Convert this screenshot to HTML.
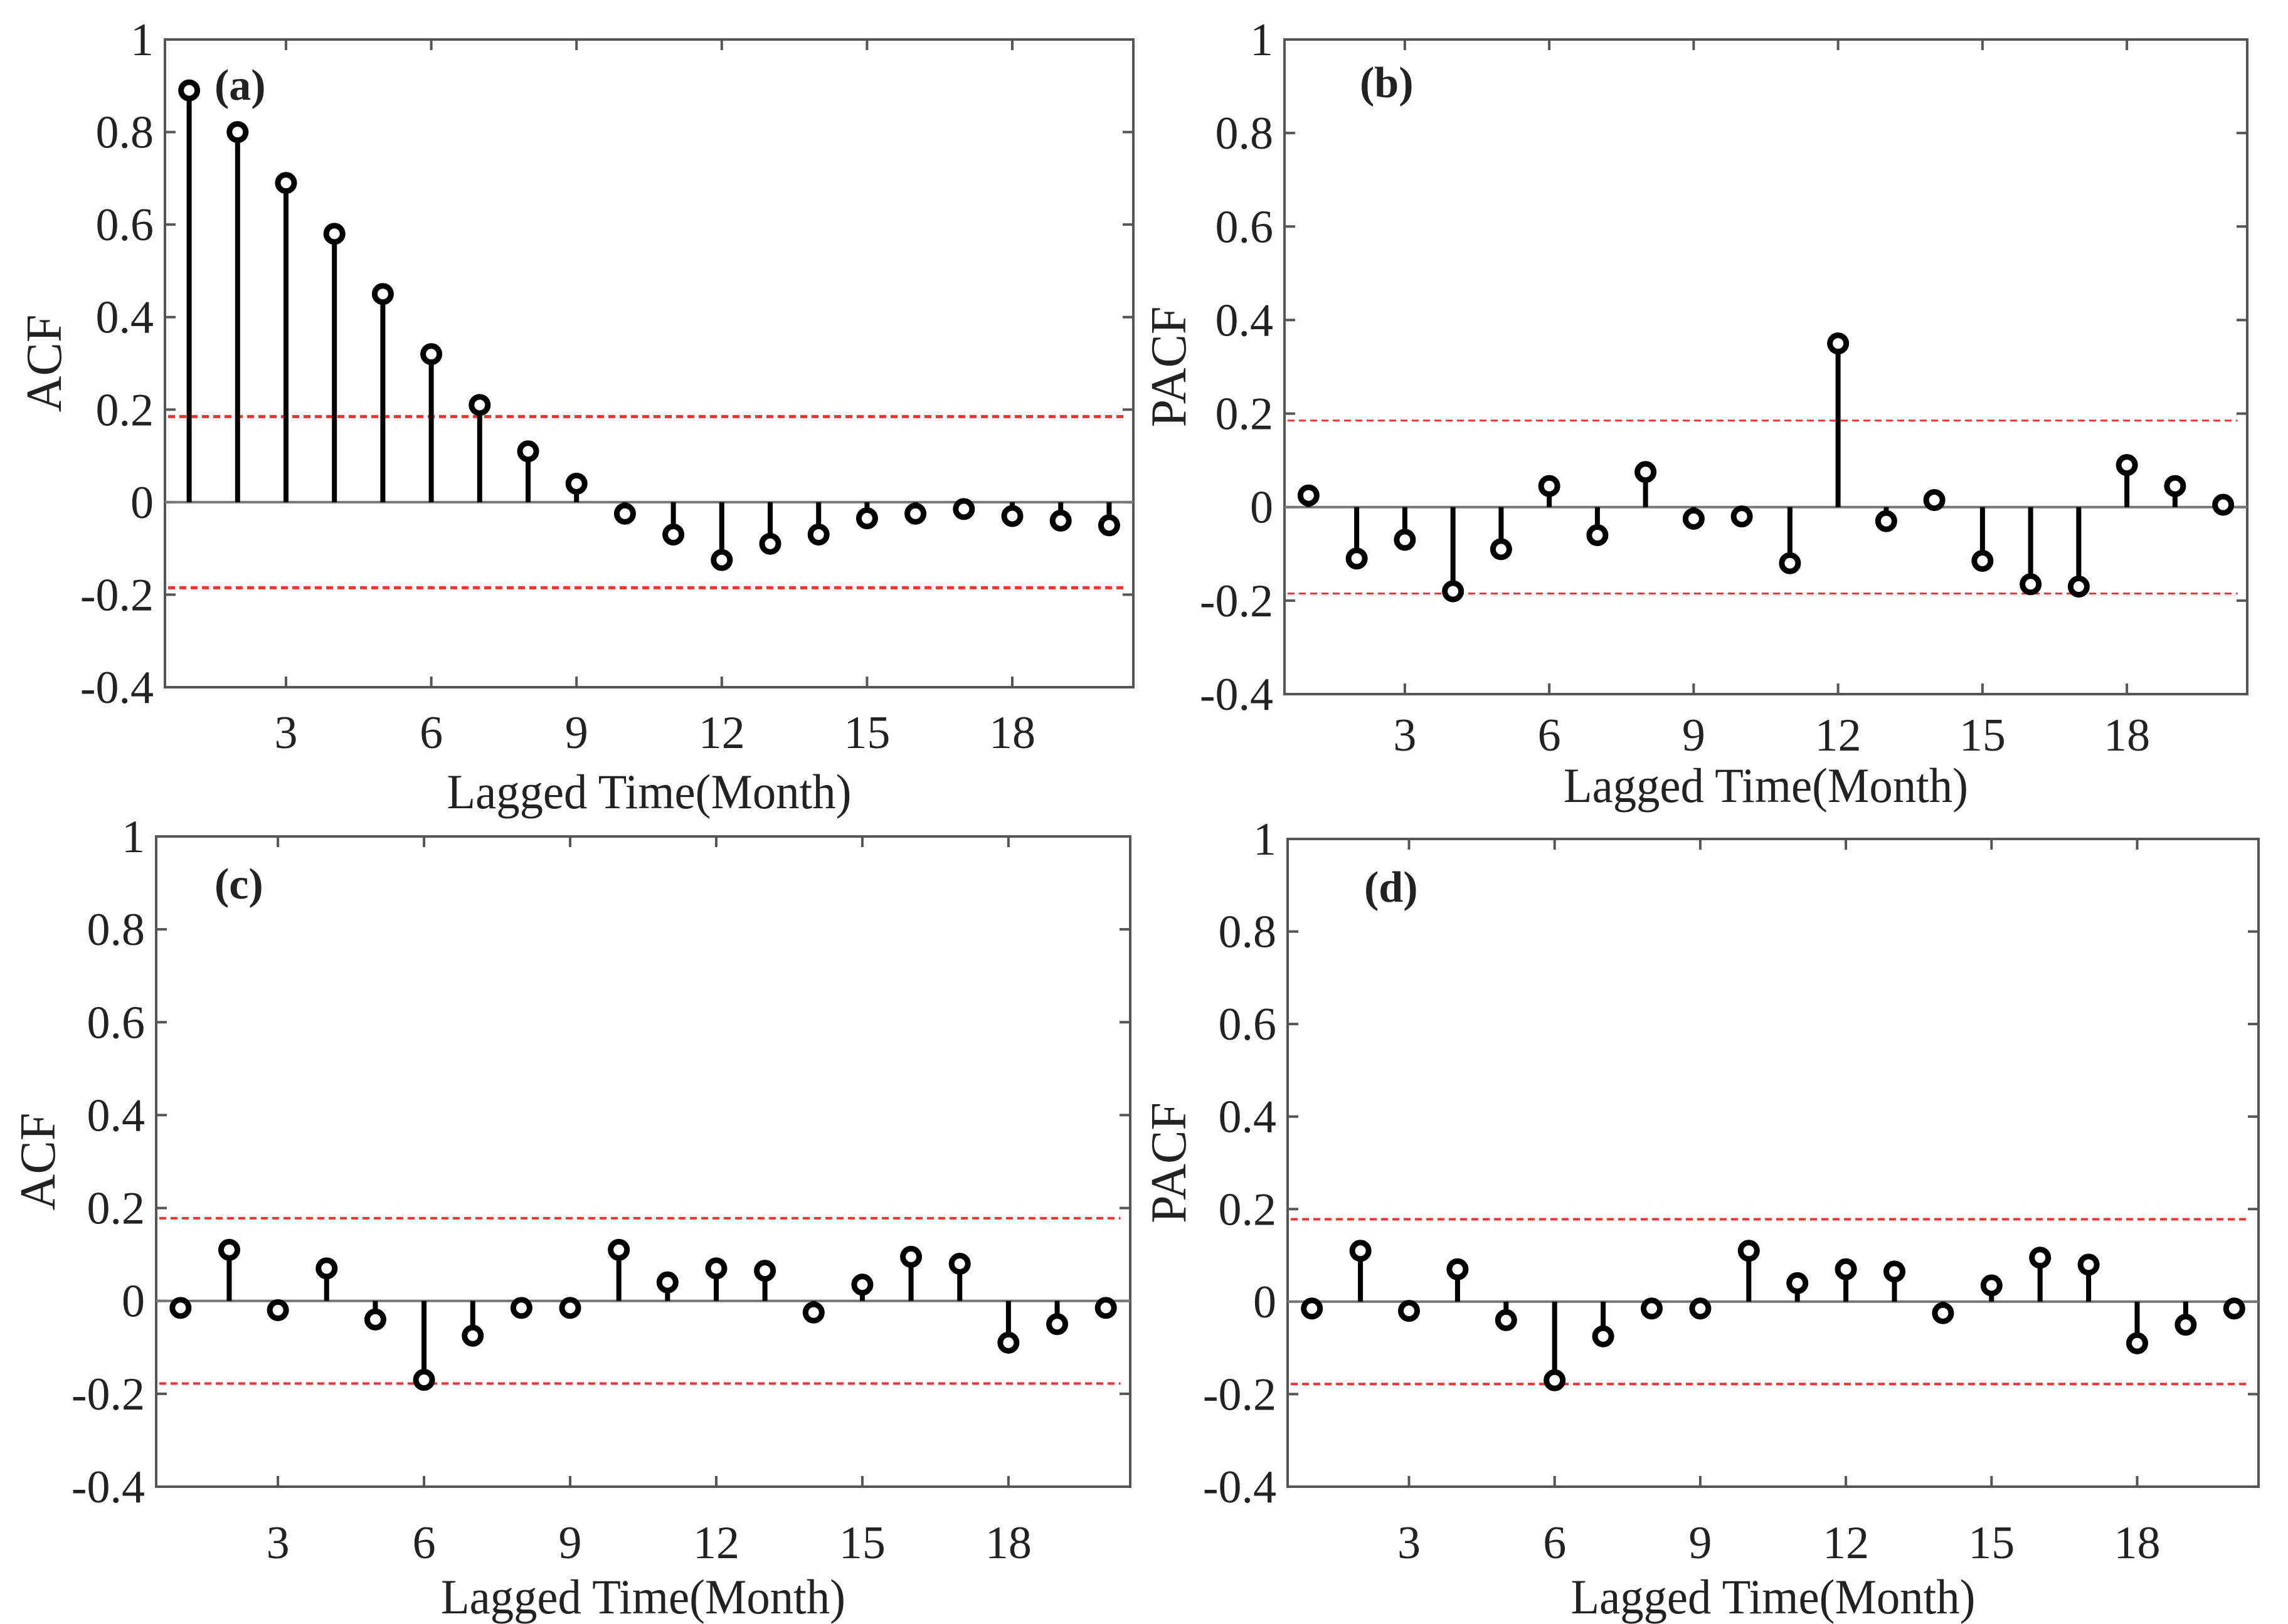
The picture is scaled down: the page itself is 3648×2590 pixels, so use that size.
<!DOCTYPE html>
<html><head><meta charset="utf-8"><style>
html,body{margin:0;padding:0;background:#fff;}
svg{display:block;}
text{font-family:"Liberation Serif","DejaVu Serif",serif;fill:#222;}
</style></head><body>
<svg id="fig" width="3648" height="2590" viewBox="0 0 3648 2590" xmlns="http://www.w3.org/2000/svg"></svg>
<script>
const lags = [1,2,3,4,5,6,7,8,9,10,11,12,13,14,15,16,17,18,19,20];
const acfA = [0.89,0.80,0.69,0.58,0.45,0.32,0.21,0.11,0.04,-0.025,-0.07,-0.125,-0.09,-0.07,-0.035,-0.025,-0.015,-0.03,-0.04,-0.05];
const pacfB = [0.025,-0.11,-0.07,-0.18,-0.09,0.045,-0.06,0.075,-0.025,-0.02,-0.12,0.35,-0.03,0.015,-0.115,-0.165,-0.17,0.09,0.045,0.005];
const acfC = [-0.015,0.11,-0.02,0.07,-0.04,-0.17,-0.075,-0.015,-0.015,0.11,0.04,0.07,0.065,-0.025,0.035,0.095,0.08,-0.09,-0.05,-0.015];
const pacfD = [-0.015,0.11,-0.02,0.07,-0.04,-0.17,-0.075,-0.015,-0.015,0.11,0.04,0.07,0.065,-0.025,0.035,0.095,0.08,-0.09,-0.05,-0.015];
const confAB = [0.185, 0.185];
const confCD = [0.178, 0.178];
const yTicks = [-0.4,-0.2,0,0.2,0.4,0.6,0.8,1];
const yTickLabels = ["-0.4","-0.2","0","0.2","0.4","0.6","0.8","1"];
const xTicks = [3,6,9,12,15,18];
const xTickLabels = ["3","6","9","12","15","18"];

const NS="http://www.w3.org/2000/svg";
const FF='"Liberation Serif","DejaVu Serif",serif';
const svg=document.getElementById('fig');
function el(tag,attrs,parent){const e=document.createElementNS(NS,tag);for(const k in attrs)e.setAttribute(k,attrs[k]);(parent||svg).appendChild(e);return e;}

const panels=[
 {key:'a',L:263,R:1807,T:63,B:1096,vals:acfA,conf:confAB[0],ylab:'ACF',ylx:70,tickY:1168,xlY:1262,lab:'(a)',labX:342,labY:135,redW:5},
 {key:'b',L:2048,R:3583,T:63,B:1107,vals:pacfB,conf:confAB[1],ylab:'PACF',ylx:1863,tickY:1172,xlY:1252,lab:'(b)',labX:2168,labY:131,redW:3},
 {key:'c',L:249,R:1802,T:1334,B:2371,vals:acfC,conf:confCD[0],ylab:'ACF',ylx:60,tickY:2460,xlY:2546,lab:'(c)',labX:342,labY:1409,redW:4},
 {key:'d',L:2053,R:3601,T:1338,B:2371,vals:pacfD,conf:confCD[1],ylab:'PACF',ylx:1863,tickY:2460,xlY:2546,lab:'(d)',labX:2175,labY:1414,redW:4}
];

panels.forEach(p=>{
  const g=el('g',{});
  
  
  const xs=v=>p.L+(v-0.5)/20*(p.R-p.L);
  const ys=v=>p.B-(v+0.4)/1.4*(p.B-p.T);
  const box=el('rect',{x:p.L,y:p.T,width:p.R-p.L,height:p.B-p.T,fill:'none',stroke:'#555','stroke-width':4},g);
  
  
  yTicks.forEach((v,i)=>{
    const y=ys(v);
    el('line',{x1:p.L,x2:p.L+17,y1:y,y2:y,stroke:'#555','stroke-width':4},g);
    el('line',{x1:p.R,x2:p.R-17,y1:y,y2:y,stroke:'#555','stroke-width':4},g);
    const t=el('text',{x:p.L-18,y:y+25,'text-anchor':'end','font-size':74,'font-family':FF},g);
    t.textContent=yTickLabels[i];
    
    
  });
  xTicks.forEach((v,i)=>{
    const x=xs(v);
    el('line',{x1:x,x2:x,y1:p.B,y2:p.B-17,stroke:'#555','stroke-width':4},g);
    el('line',{x1:x,x2:x,y1:p.T,y2:p.T+17,stroke:'#555','stroke-width':4},g);
    const t=el('text',{x:x,y:p.tickY+25,'text-anchor':'middle','font-size':74,'font-family':FF},g);
    t.textContent=xTickLabels[i];
    
    
  });
  const z=el('line',{x1:p.L,x2:p.R,y1:ys(0),y2:ys(0),stroke:'#777','stroke-width':4},g);
  
  
  [p.conf,-p.conf].forEach(c=>{
    const l=el('line',{x1:p.L+5,x2:xs(20.3),y1:ys(c),y2:ys(c),stroke:'#ff3030','stroke-width':p.redW,'stroke-dasharray':'11 7'},g);
    
    
  });
  p.vals.forEach((v,i)=>{
    const x=xs(lags[i]);
    const s=el('line',{x1:x,x2:x,y1:ys(0),y2:ys(v),stroke:'#000','stroke-width':8},g);
    
    
    const c=el('circle',{cx:x,cy:ys(v),r:13,fill:'#fff',stroke:'#000','stroke-width':9},g);
    
    
  });
  const cy=(p.T+p.B)/2;
  const yl=el('text',{x:p.ylx,y:cy,'text-anchor':'middle','font-size':80,'font-family':FF,transform:`rotate(-90 ${p.ylx} ${cy})`,dy:27},g);
  yl.textContent=p.ylab;
  
  
  const xl=el('text',{x:(p.L+p.R)/2,y:p.xlY+27,'text-anchor':'middle','font-size':78,'font-family':FF,textLength:645,lengthAdjust:'spacingAndGlyphs'},g);
  xl.textContent='Lagged Time(Month)';
  
  
  const pl=el('text',{x:p.labX,y:p.labY+24,'font-size':70,'font-weight':'bold','font-family':FF,fill:'#000'},g);
  pl.textContent=p.lab;
  
  
});
</script>
</body></html>
